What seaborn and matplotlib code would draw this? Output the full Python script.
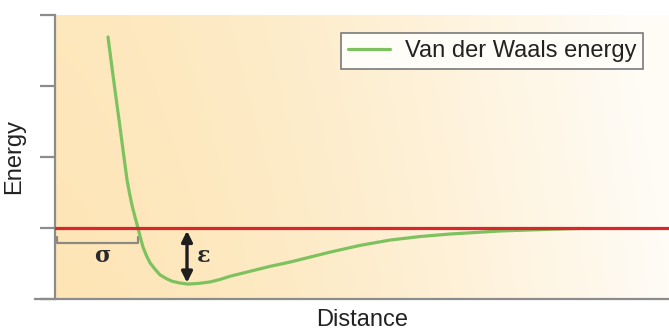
import numpy as np
import pandas as pd
import matplotlib
matplotlib.use('Agg')
import matplotlib.pyplot as plt
import seaborn as sns

# Van der Waals (Lennard-Jones style) curve
# distance in arbitrary units, energy in tick units (0 = red line)
distance = [0.53, 0.555, 0.58, 0.605, 0.63, 0.655, 0.68, 0.70, 0.72, 0.745,
            0.77, 0.80, 0.83, 0.855, 0.88, 0.915, 0.95, 1.00, 1.05, 1.11,
            1.17, 1.25, 1.33, 1.44, 1.55, 1.65, 1.75, 1.95, 2.15, 2.35,
            2.55, 2.75, 3.05, 3.35, 3.65, 3.95, 4.45, 4.95, 5.25]
energy = [2.69, 2.42, 2.15, 1.89, 1.63, 1.37, 1.10, 0.89, 0.68, 0.49,
          0.32, 0.155, 0.00, -0.14, -0.27, -0.39, -0.49, -0.58, -0.66, -0.71,
          -0.75, -0.775, -0.79, -0.78, -0.76, -0.725, -0.68, -0.61, -0.54, -0.48,
          -0.41, -0.34, -0.245, -0.17, -0.12, -0.085, -0.042, -0.018, -0.007]
y_ticks = [-1, 0, 1, 2, 3]

sigma_pos = 0.83      # where the curve crosses zero
eps_pos = 1.32        # x of the epsilon arrow
eps_depth = -0.77     # bottom of the well

series_label = 'Van der Waals energy'

df = pd.DataFrame({'Distance': distance, 'Energy': energy})

sns.set_style('ticks')
plt.rcParams['font.family'] = ['Liberation Sans', 'DejaVu Sans']

fig = plt.figure(figsize=(6.69, 3.33), dpi=100)
ax = fig.add_axes([55 / 669, 1 - 299 / 333, 614 / 669, 284 / 333])

# warm gradient background, orange on the left fading to white on the right
gx = np.linspace(0, 1, 300)
gy = np.linspace(0, 1, 60)
GX, GY = np.meshgrid(gx, gy)
left = np.array([253, 229, 182]) / 255
right = np.array([255, 252, 246]) / 255
t = np.clip(GX ** 1.5 + 0.10 * GY, 0, 1)[..., None]
grad = left * (1 - t) + right * t
ax.imshow(grad, extent=[0, 6.14, -1, 3], aspect='auto', origin='lower', zorder=0)

sns.lineplot(data=df, x='Distance', y='Energy', color='#7dc25f', linewidth=2.3,
             label=series_label, ax=ax, zorder=3, sort=False)
ax.axhline(0, color='#d8262b', linewidth=2.3, zorder=4)

# sigma bracket
ax.plot([0.02, 0.02, sigma_pos, sigma_pos], [-0.12, -0.21, -0.21, -0.12],
        color='#8a8a80', linewidth=1.6, zorder=2)
ax.text(0.47, -0.40, 'σ', fontsize=16, fontweight='bold', color='#2b2b2b',
        family=['DejaVu Serif'], ha='center', va='center')

# epsilon arrow
ax.annotate('', xy=(eps_pos, eps_depth), xytext=(eps_pos, -0.04),
            arrowprops=dict(arrowstyle='<|-|>', color='#1e1e1e', lw=2.4,
                            mutation_scale=16, shrinkA=0, shrinkB=0), zorder=5)
ax.text(1.49, -0.40, 'ε', fontsize=16, fontweight='bold', color='#2b2b2b',
        family=['DejaVu Serif'], ha='center', va='center')

ax.set_xlim(0, 6.14)
ax.set_ylim(-1, 3)
ax.set_yticks(y_ticks)
ax.set_yticklabels([])
ax.set_xticks([])
ax.tick_params(axis='y', length=11, width=1.6, color='#8c8c8c')

for side in ['top', 'right']:
    ax.spines[side].set_visible(False)
for side in ['left', 'bottom']:
    ax.spines[side].set_color('#8c8c8c')
    ax.spines[side].set_linewidth(1.6)
ax.spines['bottom'].set_bounds(-0.2, 6.14)

ax.set_xlabel('Distance', fontsize=17, color='#222222', labelpad=7)
ax.set_ylabel('Energy', fontsize=17, color='#222222', labelpad=7)

leg = ax.legend(loc='upper right', bbox_to_anchor=(0.958, 0.937), borderaxespad=0,
                fontsize=17, frameon=True, fancybox=False, handlelength=1.8,
                handletextpad=0.6, borderpad=0.3)
leg.get_frame().set_edgecolor('#7a7a7a')
leg.get_frame().set_linewidth(1.2)
leg.get_frame().set_facecolor('#fffdf8')
leg.get_frame().set_alpha(1)
for txt in leg.get_texts():
    txt.set_color('#222222')

fig.savefig('out.png', dpi=100)
